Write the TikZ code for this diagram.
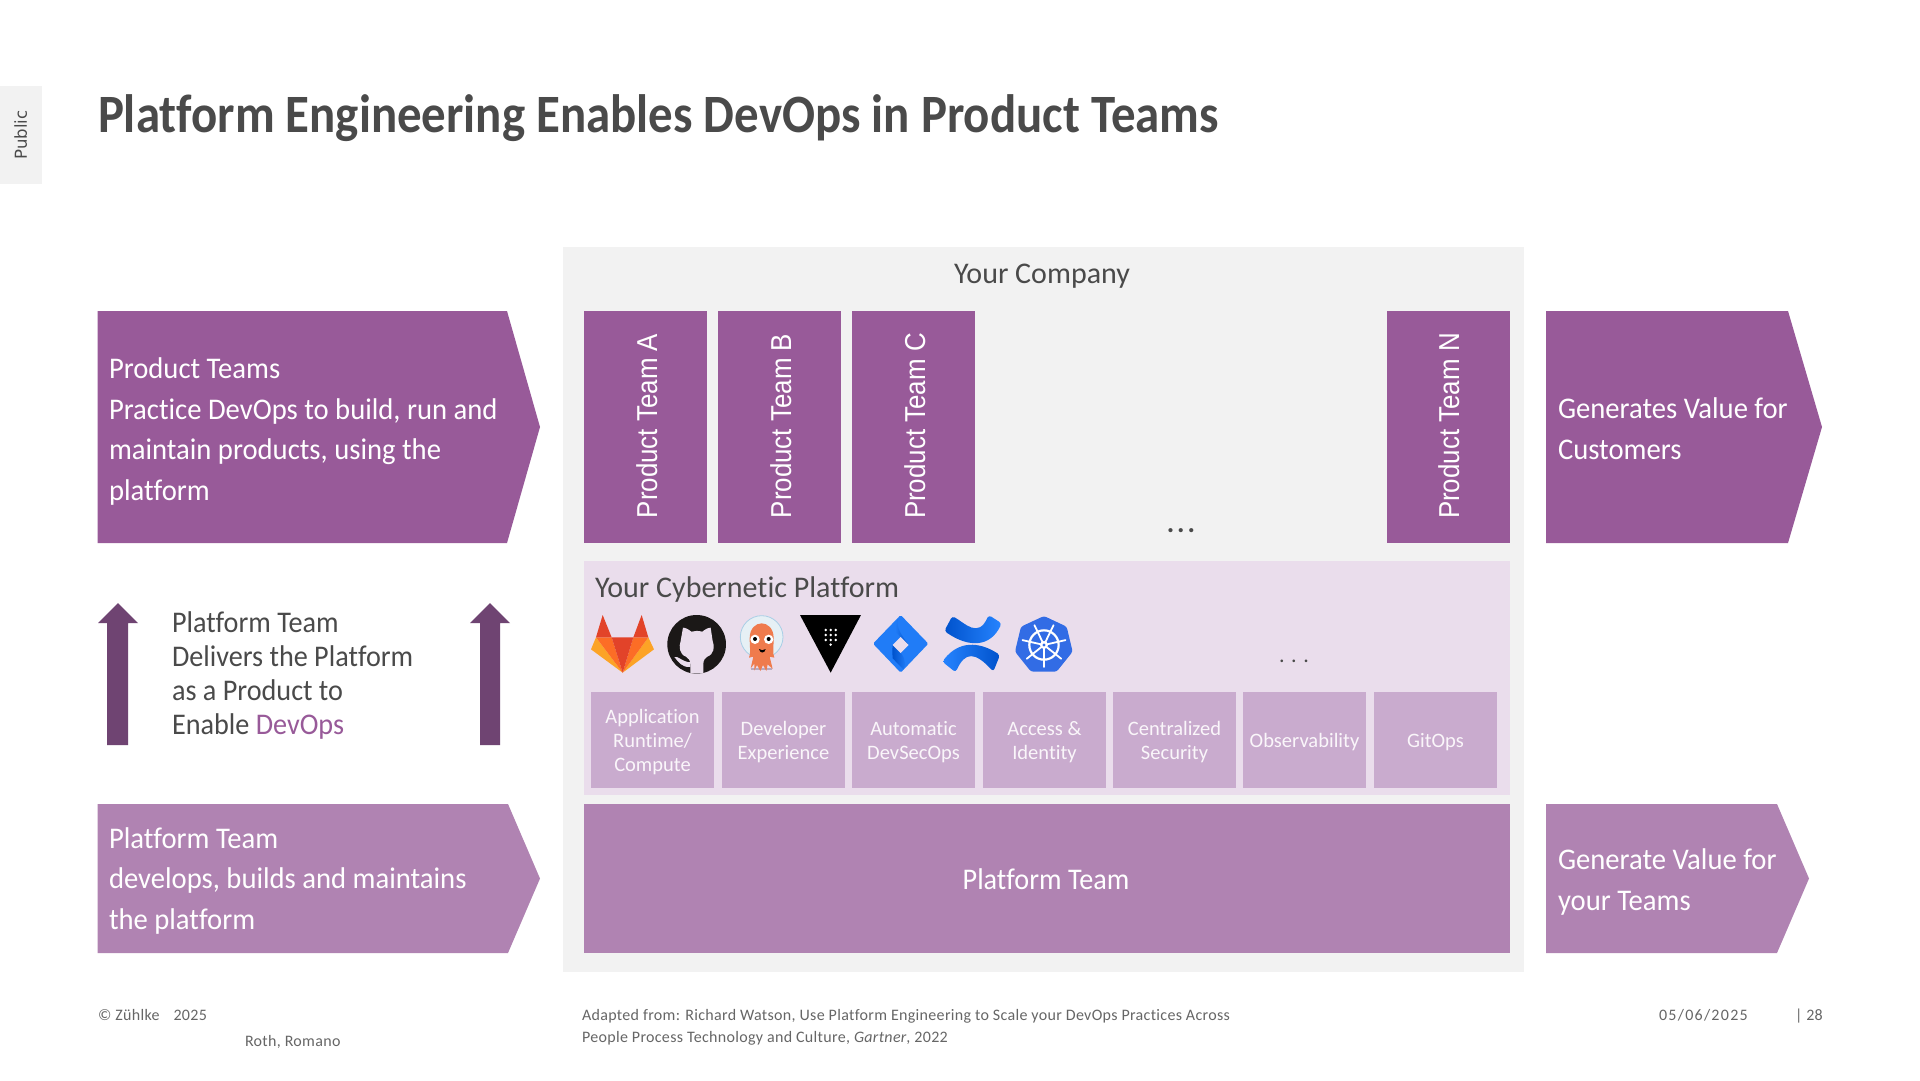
\documentclass[tikz,border=0pt]{standalone}
\usepackage{fontspec}
\setmainfont[Ligatures=NoCommon]{Carlito}
\newfontfamily\labelfont[FakeStretch=0.9]{Liberation Sans}
\newfontfamily\tabfont{DejaVu Sans}
\newfontfamily\armfont[Ligatures=NoCommon,FakeStretch=0.955]{Carlito}
\newfontfamily\delfont[Ligatures=NoCommon,FakeStretch=0.94]{Carlito}
\newfontfamily\titlefont[Ligatures=NoCommon,FakeStretch=0.905]{Carlito}
\newfontfamily\footfont[Ligatures=NoCommon,LetterSpace=2]{Carlito}
\newfontfamily\datefont[Ligatures=NoCommon,LetterSpace=8]{Carlito}
\newfontfamily\dotfont[LetterSpace=10]{Carlito}
\newfontfamily\dotfontb[LetterSpace=30]{Carlito}
\definecolor{plum}{HTML}{985A99}
\definecolor{orchid}{HTML}{B083B2}
\definecolor{lilac}{HTML}{C9ABCE}
\definecolor{mist}{HTML}{EADDEC}
\definecolor{ash}{HTML}{F2F2F2}
\definecolor{grape}{HTML}{6F4472}
\definecolor{ink}{HTML}{4A4A4A}
\definecolor{softink}{HTML}{666666}
\definecolor{pale}{HTML}{FAF6FA}
\definecolor{glred}{HTML}{E24329}
\definecolor{glor}{HTML}{FC6D26}
\definecolor{glye}{HTML}{FCA326}
\definecolor{ghbk}{HTML}{1B1817}
\definecolor{argo}{HTML}{EF7B4D}
\definecolor{helmet}{HTML}{E6F0F5}
\definecolor{rim}{HTML}{A9CFE6}
\definecolor{argobase}{HTML}{B9A9BE}
\definecolor{blueA}{HTML}{2684FF}
\definecolor{blueB}{HTML}{0052CC}
\definecolor{kblue}{HTML}{326CE5}
\newcommand{\fs}[2]{\fontsize{#1}{#2}\selectfont}
\tikzset{
  cropA/.style={shift={(580,605)},x=0.3333pt,y=-0.3333pt},
  cropB/.style={shift={(735,605)},x=0.3333pt,y=-0.3333pt},
  cropC/.style={shift={(865,605)},x=0.3333pt,y=-0.3333pt},
  txt/.style={inner sep=0pt,outer sep=0pt,align=left},
  boxtxt/.style={txt,text=pale,align=center,font=\fs{20.5}{24}},
  armtxt/.style={txt,text=white,anchor=base west,font=\armfont\fs{30}{40.5}},
  teamlabel/.style={inner sep=0pt,text=white,rotate=90,anchor=base,font=\labelfont\fs{28.8}{30}},
  teambox/.style={fill=plum},
  cell/.style={fill=lilac},
  foot/.style={txt,text=softink,anchor=base west,font=\footfont\fs{16}{22}},
  datefoot/.style={txt,text=softink,anchor=base west,font=\datefont\fs{16}{22}},
}
\begin{document}
\begin{tikzpicture}[x=1pt,y=-1pt]
\useasboundingbox (0,0) rectangle (1920,1080);
\fill[white] (0,0) rectangle (1920,1080);
% tab and title
\fill[ash] (0,86) rectangle (41.5,184);
\node[inner sep=0pt,rotate=90,anchor=base,text=ink,font=\tabfont\fs{16.5}{18}] (tab) at (27,135) {Public};
\node[txt,anchor=base west,text=ink,font=\titlefont\bfseries\fs{54}{60}] (title) at (98,132) {Platform Engineering Enables DevOps in Product Teams};
% company
\fill[ash] (563,247) rectangle (1523.5,971.5);
\node[inner sep=0pt,anchor=base,text=ink,font=\fs{30}{32}] (company) at (1042,283) {Your Company};
% left arrows
\fill[plum] (97.5,311) -- (507,311) -- (540,427) -- (507,543) -- (97.5,543) -- cycle;
\node[armtxt] (prod) at (109,500) {Product Teams\\Practice DevOps to build, run and\\maintain products, using the\\platform};
\fill[orchid] (97.5,804) -- (508,804) -- (540,878.5) -- (508,953) -- (97.5,953) -- cycle;
\node[armtxt] (plat) at (109,929) {Platform Team\\develops, builds and maintains\\the platform};
% right arrows
\fill[plum] (1546,311) -- (1788,311) -- (1822,427) -- (1788,543) -- (1546,543) -- cycle;
\node[armtxt] (valc) at (1558,459) {Generates Value for\\Customers};
\fill[orchid] (1546,804) -- (1777,804) -- (1809,878.5) -- (1777,953) -- (1546,953) -- cycle;
\node[armtxt] (valt) at (1558,910) {Generate Value for\\your Teams};
% team boxes
\fill[teambox] (584.3,311) rectangle (707,543);
\fill[teambox] (718.3,311) rectangle (841,543);
\fill[teambox] (852.3,311) rectangle (975.2,543);
\fill[teambox] (1386.5,311) rectangle (1509.5,543);
\node[teamlabel] (ta) at (657,426) {Product Team A};
\node[teamlabel] (tb) at (791,426) {Product Team B};
\node[teamlabel] (tc) at (925,426) {Product Team C};
\node[teamlabel] (tn) at (1459,426) {Product Team N};
\node[inner sep=0pt,anchor=base,text=ink,font=\dotfont\bfseries\fs{28}{32}] (dots1) at (1181,532) {...};
% cybernetic platform
\fill[mist] (584.3,561) rectangle (1510,795);
\node[txt,anchor=base west,text=ink,font=\fs{30}{32}] (cyb) at (595,597) {Your Cybernetic Platform};
\node[inner sep=0pt,anchor=base,text=ink,font=\dotfontb\fs{22}{24}] (dots2) at (1294,662) {...};
% cells
\fill[cell] (591,692) rectangle (714,788);
\fill[cell] (722,692) rectangle (845,788);
\fill[cell] (852,692) rectangle (975,788);
\fill[cell] (983,692) rectangle (1106,788);
\fill[cell] (1113,692) rectangle (1236,788);
\fill[cell] (1243,692) rectangle (1366,788);
\fill[cell] (1374,692) rectangle (1497,788);
\node[boxtxt] (c1) at (652.5,742) {Application\\Runtime/\\Compute};
\node[boxtxt] (c2) at (783.5,742) {Developer\\Experience};
\node[boxtxt] (c3) at (913.5,742) {Automatic\\DevSecOps};
\node[boxtxt] (c4) at (1044.5,742) {Access \&\\Identity};
\node[boxtxt] (c5) at (1174.5,742) {Centralized\\Security};
\node[boxtxt] (c6) at (1304.5,742) {Observability};
\node[boxtxt] (c7) at (1435.5,742) {GitOps};
% platform team bar
\fill[orchid] (584.3,804) rectangle (1510,953);
\node[inner sep=0pt,text=white,font=\delfont\fs{30}{32}] (pt) at (1046,879) {Platform Team};
% up arrows
\fill[grape] (107,745) -- (107,623) -- (98,623) -- (118,603) -- (138,623) -- (128,623) -- (128,745) -- cycle;
\fill[grape] (480,745) -- (480,623) -- (470,623) -- (490,603) -- (510,623) -- (500,623) -- (500,745) -- cycle;
\node[txt,anchor=base west,text=ink,font=\delfont\fs{30}{34}] (deliver) at (172,734) {Platform Team\\Delivers the Platform\\as a Product to\\Enable \textcolor{plum}{DevOps}};
% GitLab
\begin{scope}[cropA]
\fill[glye] (48,97) -- (33,133) -- (128,203) -- cycle;
\fill[glye] (205,97) -- (222,133) -- (128,203) -- cycle;
\fill[glor] (48,97) -- (95,97) -- (128,203) -- cycle;
\fill[glor] (205,97) -- (160,97) -- (128,203) -- cycle;
\fill[glred] (95,97) -- (160,97) -- (128,203) -- cycle;
\fill[glred] (48,97) -- (68,30) -- (95,97) -- cycle;
\fill[glred] (205,97) -- (185,30) -- (160,97) -- cycle;
% GitHub
\fill[ghbk] (350,118) circle [radius=88];
\fill[mist] (331,205) -- (331,178) .. controls (331,165) and (325,160) .. (318,155)
  .. controls (298,148) and (296,125) .. (302,108) -- (309,68) .. controls (318,68) and (328,75) .. (334,80)
  .. controls (345,77) and (355,77) .. (367,80) .. controls (373,75) and (383,68) .. (392,68)
  -- (398,108) .. controls (405,125) and (402,148) .. (382,155) .. controls (375,160) and (370,165) .. (370,178)
  -- (370,205) -- cycle;
\fill[mist] (283,156) .. controls (295,152) and (305,170) .. (331,172) -- (331,186) .. controls (305,188) and (295,170) .. (283,156) -- cycle;
\end{scope}
% Argo
\begin{scope}[cropB]
\fill[helmet,draw=rim,line width=0.8pt] (80,96) circle [radius=64];
\fill[argobase] (48,188) rectangle (112,196);
\fill[argo] (44,100) .. controls (44,40) and (116,40) .. (116,100)
  .. controls (116,125) and (112,145) .. (118,158) -- (104,155) -- (113,192) -- (98,178) -- (94,198) -- (84,180) -- (76,198) -- (66,180) -- (58,197) -- (58,176) -- (47,190) -- (55,155) -- (42,158)
  .. controls (48,145) and (44,125) .. (44,100) -- cycle;
\fill[white] (60,103) circle [radius=14];
\fill[white] (101,103) circle [radius=14];
\fill[black] (60,102) circle [radius=6];
\fill[black] (101,102) circle [radius=6];
\fill[black] (72,132) .. controls (78,137) and (86,137) .. (92,132) .. controls (90,146) and (74,146) .. (72,132) -- cycle;
% Vault
\fill[black] (195,30) -- (378,30) -- (287,203) -- cycle;
\foreach \a in {272,287,302}\foreach \b in {75,90,105}{\fill[white] (\a,\b) circle [radius=4.2];}
\fill[white] (287,119) circle [radius=4.2];
\end{scope}
% Jira
\begin{scope}[cropC]
\fill[blueA!85!blueB,rounded corners=1.5pt] (107,30) -- (190,116) -- (107,203) -- (24,116) -- cycle;
\path[left color=blueA!85!blueB,right color=blueB] (98,40) .. controls (94,60) and (100,80) .. (131,120) -- (107,96) -- (90,78) -- cycle;
\path[left color=blueB,right color=blueA!85!blueB] (83,120) -- (107,144) .. controls (125,165) and (120,185) .. (116,194) -- (83,160) .. controls (82,145) and (82,135) .. (83,120) -- cycle;
\fill[mist] (107,96) -- (131,120) -- (107,144) -- (83,120) -- cycle;
% Confluence
\path[left color=blueB,right color=blueA,rounded corners=3pt] (262,33) .. controls (300,55) and (340,100) .. (371,30) -- (410,55)
  .. controls (375,128) and (310,128) .. (238,78) -- cycle;
\path[left color=blueA,right color=blueB,rounded corners=3pt] (232,170) .. controls (280,108) and (340,108) .. (405,150) -- (385,200)
  .. controls (330,140) and (300,140) .. (272,202) -- cycle;
% Kubernetes
\fill[kblue,rounded corners=2.5pt] (537,33) -- (605,65) -- (623,140) -- (575,200) -- (498,200) -- (450,140) -- (468,65) -- cycle;
\draw[white,line width=2.2pt] (537,120) circle [radius=44];
\foreach \k in {0,...,6}{\draw[white,line width=1.8pt,line cap=round] (537,120) -- ++({90+\k*360/7}:66);}
\fill[white] (537,120) circle [radius=12];
\fill[kblue] (537,120) circle [radius=5];
\end{scope}
% footer
\node[foot] (f1) at (98,1020) {© Zühlke\hspace{14pt}2025};
\node[foot] (f2) at (245,1046) {Roth, Romano};
\node[foot] (f3) at (582,1042) {Adapted from: Richard Watson, Use Platform Engineering to Scale your DevOps Practices Across\\People Process Technology and Culture, \textit{Gartner}, 2022};
\node[datefoot] (f4) at (1659,1020) {05/06/2025};
\node[foot] (f5) at (1795,1020) {| 28};
\end{tikzpicture}
\end{document}
